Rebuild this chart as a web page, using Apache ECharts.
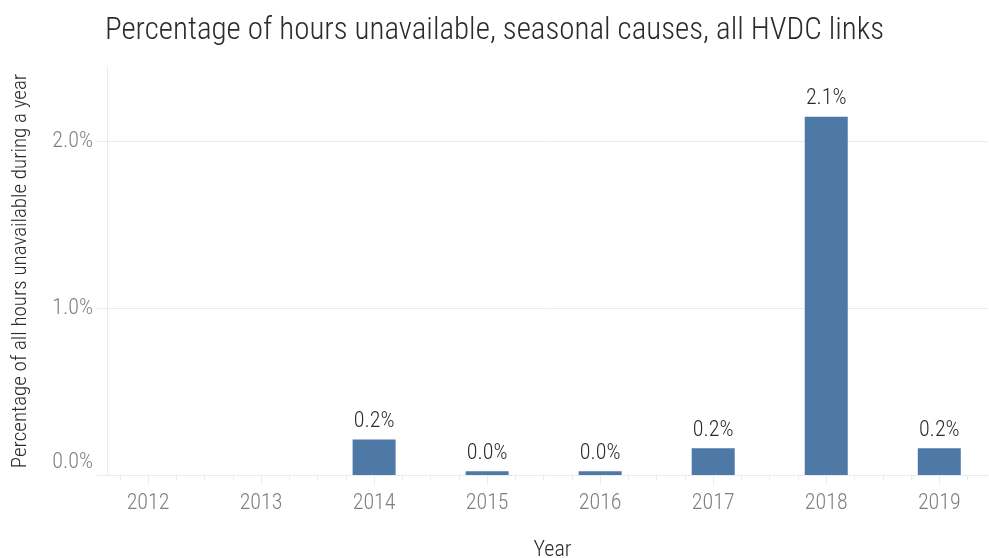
<!DOCTYPE html>
<html>
<head>
<meta charset="utf-8">
<script src="https://cdn.jsdelivr.net/npm/echarts@6/dist/echarts.min.js"></script>
<style>
  html, body { margin: 0; padding: 0; background: #ffffff; }
  #chart { width: 989px; height: 558px; }
</style>
</head>
<body>
<div id="chart"></div>
<script>
// Years on the x axis and the share of hours lost to seasonal causes (percent)
var years = [2012, 2013, 2014, 2015, 2016, 2017, 2018, 2019];
var pctUnavailable = [null, null, 0.213, 0.022, 0.022, 0.16, 2.149, 0.16];
var yTicks = [0, 1, 2];

var FONT = "'Roboto Condensed', 'Liberation Sans Narrow', 'Arial Narrow', sans-serif";
var LIGHT = 300;
var GRID_COLOR = '#ebebeb';

// quarter-year minor ticks between the labelled years
var minorTicks = [];
for (var q = 2011.75; q <= 2019.25; q += 0.25) {
  if (Math.abs(q - Math.round(q)) > 1e-6) minorTicks.push(q);
}

var barData = [];
for (var i = 0; i < years.length; i++) {
  if (pctUnavailable[i] !== null) barData.push([years[i], pctUnavailable[i]]);
}

var chart = echarts.init(document.getElementById('chart'), null, { renderer: 'canvas' });
chart.setOption({
  animation: false,
  backgroundColor: '#ffffff',
  textStyle: { fontFamily: FONT, fontWeight: LIGHT },
  title: {
    text: 'Percentage of hours unavailable, seasonal causes, all HVDC links',
    left: 'center',
    top: 11,
    textStyle: { fontFamily: FONT, fontSize: 31, fontWeight: LIGHT, color: '#2b2b2b' }
  },
  // fixed plot box; the axis name may run to the page edge
  grid: { left: 107, right: 1, top: 67, bottom: 83, containLabel: false, outerBoundsMode: 'none' },
  xAxis: [{
    type: 'value',
    min: 2011.637,
    max: 2019.431,
    name: 'Year',
    nameLocation: 'middle',
    nameGap: 64,
    nameTextStyle: { fontFamily: FONT, fontSize: 22, fontWeight: LIGHT, color: '#2b2b2b', padding: [0, 0, 0, 10] },
    axisLine: { show: true, lineStyle: { color: GRID_COLOR, width: 1 } },
    axisTick: { show: true, length: 10, customValues: years, lineStyle: { color: GRID_COLOR } },
    axisLabel: {
      customValues: years, margin: 17, fontFamily: FONT, fontSize: 22, fontWeight: LIGHT, color: '#7f7f7f',
      formatter: function (v) { return String(Math.round(v)); }
    },
    splitLine: { show: false }
  }, {
    type: 'value',
    min: 2011.637,
    max: 2019.431,
    position: 'bottom',
    axisLine: { show: false },
    axisTick: { show: true, length: 5, customValues: minorTicks, lineStyle: { color: GRID_COLOR } },
    axisLabel: { show: false },
    splitLine: { show: false }
  }],
  yAxis: {
    type: 'value',
    min: 0,
    max: 2.448,
    interval: 1,
    name: 'Percentage of all hours unavailable during a year',
    nameLocation: 'middle',
    nameGap: 76,
    nameTextStyle: { fontFamily: FONT, fontSize: 21, fontWeight: LIGHT, color: '#2b2b2b' },
    axisLine: { show: true, lineStyle: { color: GRID_COLOR, width: 1 } },
    axisTick: { show: true, length: 10, customValues: yTicks, lineStyle: { color: GRID_COLOR } },
    axisLabel: {
      customValues: yTicks, margin: 14, fontFamily: FONT, fontSize: 22, fontWeight: LIGHT, color: '#7f7f7f',
      formatter: function (v) {
        var s = v.toFixed(1) + '%';
        return v === 0 ? '{z|' + s + '}' : s;
      },
      rich: { z: { fontFamily: FONT, fontSize: 22, fontWeight: LIGHT, color: '#7f7f7f', padding: [0, 0, 26, 0] } }
    },
    splitLine: { show: true, lineStyle: { color: GRID_COLOR, width: 1 } }
  },
  series: [{
    type: 'bar',
    xAxisIndex: 0,
    data: barData,
    barWidth: 43,
    itemStyle: { color: '#4e79a7' },
    label: {
      show: true,
      position: 'top',
      distance: 7,
      fontFamily: FONT,
      fontSize: 22,
      fontWeight: LIGHT,
      color: '#2b2b2b',
      formatter: function (p) { return p.value[1].toFixed(1) + '%'; }
    }
  }]
});
</script>
</body>
</html>
